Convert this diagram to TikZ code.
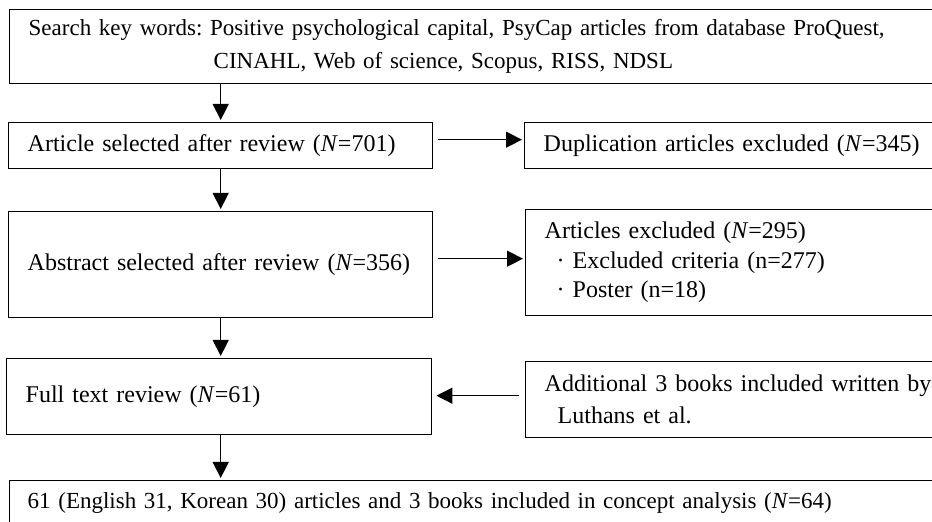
\documentclass[tikz,border=0pt]{standalone}
\usepackage{fontspec}
\setmainfont{Liberation Serif}
\usetikzlibrary{arrows.meta}
\frenchspacing

\begin{document}
\begin{tikzpicture}[x=0.5pt, y=-0.5pt,
        every node/.style={font=\fontsize{12}{12}\selectfont},
        stage/.style={draw, line width=0.7pt, anchor=north west,
            inner xsep=9.5pt, inner ysep=0pt, align=left},
        flow/.style={-{Triangle[length=8pt, width=8pt]}, line width=0.65pt}]
      \useasboundingbox (0,0) rectangle (932,522);
      \clip (0,0) rectangle (932,522);
      % main column
      \node[stage, text width=449pt, minimum height=37pt,
            font=\fontsize{11.5}{16.5}\selectfont]
            (search) at (9,9) {Search key words: Positive psychological capital, PsyCap articles from database ProQuest,\\
            \hspace*{92.5pt}CINAHL, Web of science, Scopus, RISS, NDSL};
      \node[stage, text width=193pt, minimum height=23pt]
            (art) at (8,122) {Article selected after review (\textit{N}=701)};
      \node[stage, text width=193pt, minimum height=53pt]
            (abs) at (8,211) {Abstract selected after review (\textit{N}=356)};
      \node[stage, text width=193.5pt, minimum height=38pt]
            (full) at (6,358) {Full text review (\textit{N}=61)};
      \node[stage, inner xsep=9pt, text width=460pt, minimum height=22pt,
            font=\fontsize{11.5}{12}\selectfont]
            (final) at (9,480) {61 (English 31, Korean 30) articles and 3 books included in concept analysis (\textit{N}=64)};
      % side boxes
      \node[stage, text width=200pt, minimum height=23pt]
            (dup) at (524,122) {Duplication articles excluded (\textit{N}=345)};
      \node[stage, text width=200pt, minimum height=53pt,
            font=\fontsize{12}{14.75}\selectfont]
            (exc) at (525,209) {Articles excluded (\textit{N}=295)\\
            \hspace*{6pt}\textperiodcentered{} Excluded criteria (n=277)\\
            \hspace*{6pt}\textperiodcentered{} Poster (n=18)};
      \node[stage, text width=200pt, minimum height=38pt,
            font=\fontsize{12}{16}\selectfont]
            (add) at (525,361) {Additional 3 books included written by\\
            \hspace*{6.5pt}Luthans et al.};
      % connectors
      \draw[flow, shorten >=1pt] (search.south -| art.north) -- (art.north);
      \draw[flow, shorten >=1pt] (art.south) -- (abs.north);
      \draw[flow, shorten >=1pt] (abs.south) -- (abs.south |- full.north);
      \draw[flow, shorten >=1pt] (abs.south |- full.south) -- (abs.south |- final.north);
      \draw[flow, shorten <=2.5pt, shorten >=1pt]
            ([yshift=3pt]art.east) -- ([yshift=3pt]art.east -| dup.west);
      \draw[flow, shorten <=2.5pt, shorten >=1pt]
            ([yshift=3pt]abs.east) -- ([yshift=3pt]abs.east -| exc.west);
      \draw[flow, shorten <=3pt, shorten >=2pt]
            ([yshift=2pt]add.west) -- ([yshift=2pt]add.west -| full.east);
\end{tikzpicture}
\end{document}
